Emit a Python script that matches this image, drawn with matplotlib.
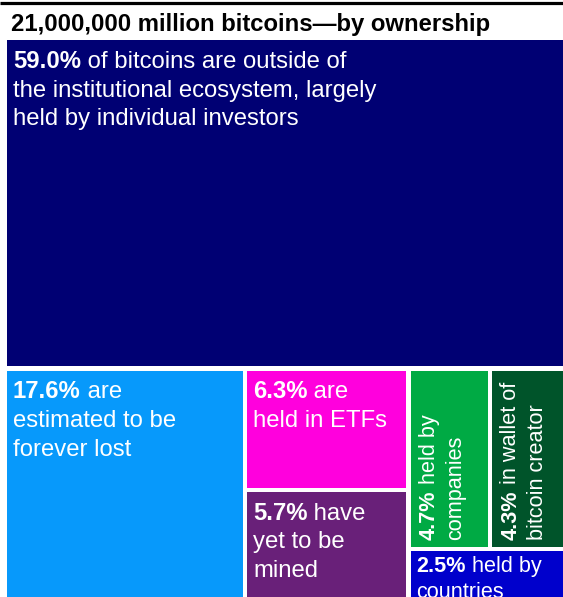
import matplotlib
matplotlib.use("Agg")
import matplotlib.pyplot as plt
from matplotlib.patches import Rectangle

plt.rcParams['font.family'] = ['Liberation Sans', 'DejaVu Sans']

title = "21,000,000 million bitcoins\u2014by ownership"
shares = [59.0, 17.6, 6.3, 5.7, 4.7, 4.3, 2.5]
bold_parts = ["59.0%", "17.6%", "6.3%", "5.7%", "4.7%", "4.3%", "2.5%"]
label_lines = [
    [" of bitcoins are outside of", "the institutional ecosystem, largely", "held by individual investors"],
    [" are", "estimated to be", "forever lost"],
    [" are", "held in ETFs"],
    [" have", "yet to be", "mined"],
    [" held by", "companies"],
    [" in wallet of", "bitcoin creator"],
    [" held by", "countries"],
]
colors = ["#000073", "#0799fb", "#ff00dd", "#692079", "#00aa44", "#00542a", "#0000cc"]
vertical = [False, False, False, False, True, True, False]
label_size = [17.2, 17.2, 17.2, 17.2, 15.6, 15.6, 15.6]
label_pad = [10.5, 10.5, 10.5, 10.5, 7, 7, 5]

# nesting of the treemap: 'v' stacks children top-to-bottom, 'h' left-to-right
tree = ("v", [0, ("h", [1, ("v", [2, 3]), ("v", [("h", [4, 5]), 6])])])

W, H = 563, 597
fig = plt.figure(figsize=(W / 100, H / 100), dpi=100)
ax = fig.add_axes([0, 0, 1, 1])
ax.set_xlim(0, W)
ax.set_ylim(H, 0)
ax.axis("off")


def total(node):
    if isinstance(node, int):
        return shares[node]
    return sum(total(c) for c in node[1])


rects = {}


def layout(node, x0, y0, x1, y1):
    if isinstance(node, int):
        rects[node] = (x0, y0, x1, y1)
        return
    d, kids = node
    s = total(node)
    pos = x0 if d == "h" else y0
    for k in kids:
        frac = total(k) / s
        if d == "h":
            w = (x1 - x0) * frac
            layout(k, pos, y0, pos + w, y1)
            pos += w
        else:
            h = (y1 - y0) * frac
            layout(k, x0, pos, x1, pos + h)
            pos += h


layout(tree, 4.8, 37.8, 565.2, 599.2)

gap = 2.2
renderer = fig.canvas.get_renderer()

for i, (x0, y0, x1, y1) in rects.items():
    ax.add_patch(Rectangle((x0 + gap, y0 + gap), x1 - x0 - 2 * gap, y1 - y0 - 2 * gap,
                           facecolor=colors[i], edgecolor="none", clip_on=True))
    lines = label_lines[i]
    fs = label_size[i]
    px = fs * 100 / 72
    lh = px * 1.21
    if not vertical[i]:
        tx = x0 + gap + 6
        ty = y0 + gap + label_pad[i] + 0.716 * px
        b = ax.text(tx, ty, bold_parts[i], color="white", fontsize=fs, fontweight="bold",
                    ha="left", va="baseline")
        bw = b.get_window_extent(renderer).width
        ax.text(tx + bw, ty, lines[0], color="white", fontsize=fs, ha="left", va="baseline")
        for j, ln in enumerate(lines[1:], start=1):
            ax.text(tx, ty + j * lh, ln, color="white", fontsize=fs, ha="left", va="baseline")
    else:
        tx = x0 + gap + label_pad[i] + 0.716 * px + 1.5
        ty = y1 - gap - 7
        b = ax.text(tx, ty, bold_parts[i], color="white", fontsize=fs, fontweight="bold",
                    ha="left", va="baseline", rotation=90, rotation_mode="anchor")
        bw = b.get_window_extent(renderer).height
        ax.text(tx, ty - bw, lines[0], color="white", fontsize=fs, ha="left", va="baseline",
                rotation=90, rotation_mode="anchor")
        for j, ln in enumerate(lines[1:], start=1):
            ax.text(tx + j * lh, ty, ln, color="white", fontsize=fs, ha="left", va="baseline",
                    rotation=90, rotation_mode="anchor")

ax.text(11, 31.5, title, fontsize=17.2, fontweight="bold", color="black", ha="left", va="baseline")
ax.plot([0, W], [2.5, 2.5], color="black", lw=2.3, solid_capstyle="butt")

fig.savefig("out.png", dpi=100)
